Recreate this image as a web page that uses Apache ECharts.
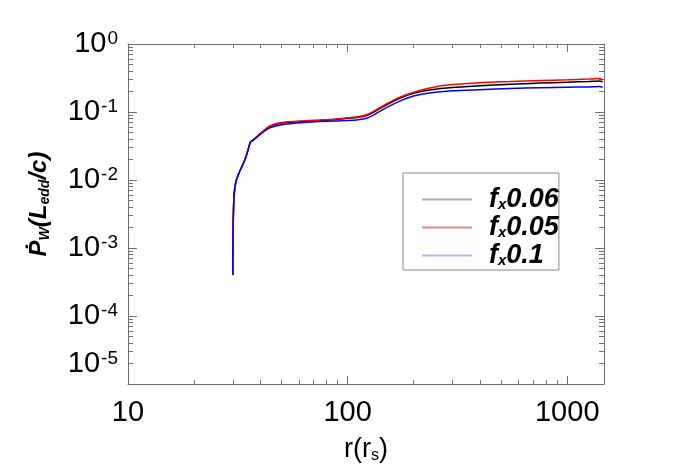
<!DOCTYPE html>
<html>
<head>
<meta charset="utf-8">
<script src="https://cdn.jsdelivr.net/npm/echarts@6/dist/echarts.min.js"></script>
<style>
html, body { margin: 0; padding: 0; background: #fff; }
#chart { width: 673px; height: 470px; }
</style>
</head>
<body>
<div id="chart"></div>
<script>
// radius in r_s
var radius = [30, 30.05, 30.15, 30.4, 31.0, 31.8, 32.6, 34.0, 35.0, 36.1, 37.4, 40, 44, 50, 63, 80, 100, 112, 122, 131, 151, 175, 200, 240, 300, 400, 550, 750, 1000, 1250, 1400, 1450];
// momentum flux of the wind, L_edd/c
var pdotFx006 = [4.0e-4, 1.0e-3, 2.6e-3, 6.0e-3, 9.5e-3, 1.2e-2, 1.45e-2, 1.95e-2, 2.6e-2, 3.6e-2, 3.95e-2, 4.8e-2, 6.1e-2, 0.069, 0.073, 0.076, 0.081, 0.084, 0.089, 0.099, 0.129, 0.162, 0.188, 0.212, 0.230, 0.243, 0.256, 0.266, 0.274, 0.281, 0.286, 0.278];
var pdotFx005 = [4.0e-4, 1.0e-3, 2.6e-3, 6.0e-3, 9.5e-3, 1.2e-2, 1.45e-2, 1.95e-2, 2.6e-2, 3.6e-2, 3.95e-2, 4.8e-2, 6.2e-2, 0.070, 0.074, 0.077, 0.082, 0.085, 0.091, 0.102, 0.133, 0.168, 0.196, 0.228, 0.253, 0.270, 0.280, 0.290, 0.298, 0.305, 0.310, 0.298];
var pdotFx01 = [4.0e-4, 1.0e-3, 2.6e-3, 6.0e-3, 9.5e-3, 1.2e-2, 1.45e-2, 1.95e-2, 2.6e-2, 3.6e-2, 3.9e-2, 4.7e-2, 5.8e-2, 0.065, 0.070, 0.073, 0.075, 0.077, 0.081, 0.090, 0.117, 0.147, 0.172, 0.192, 0.205, 0.213, 0.222, 0.227, 0.231, 0.234, 0.237, 0.232];

var seriesNames = ['0.06', '0.05', '0.1'];
var lineColors = ['#000000', '#ff0000', '#0000ff'];
var legendColors = ['#aaaaaa', '#f08080', '#b0b4ff'];

var xRange = [10, 1470];
var yRange = [1e-5, 1];
var xLabelValues = [10, 100, 1000];
// the lowest label sits on the 2e-5 tick, as in the original plot
var yLabelValues = [2e-5, 1e-4, 1e-3, 1e-2, 1e-1, 1];

var axisColor = '#707070';

function pairs(vals) {
  return radius.map(function (r, i) { return [r, vals[i]]; });
}

function logAxis(position, range, extra) {
  var ax = {
    type: 'log',
    logBase: 10,
    position: position,
    min: range[0],
    max: range[1],
    axisLine: { show: true, onZero: false, lineStyle: { color: axisColor, width: 1 } },
    axisTick: { show: true, inside: true, length: 8, lineStyle: { color: axisColor } },
    minorTick: { show: true, splitNumber: 9, length: 4, lineStyle: { color: axisColor } },
    axisLabel: { show: false },
    splitLine: { show: false },
    minorSplitLine: { show: false }
  };
  return Object.assign(ax, extra || {});
}

var chart = echarts.init(document.getElementById('chart'));

var xMain = logAxis('bottom', xRange, {
  axisLabel: {
    show: true,
    customValues: xLabelValues,
    margin: 14,
    fontSize: 29,
    lineHeight: 29,
    color: '#000',
    formatter: function (v) { return String(Math.round(v)); }
  },
  name: '{a|r(r}{s|s}{a|)}',
  nameLocation: 'middle',
  nameGap: 52,
  nameTextStyle: {
    rich: {
      a: { fontSize: 27, lineHeight: 28, color: '#000' },
      s: { fontSize: 16, lineHeight: 10, verticalAlign: 'bottom', color: '#000' }
    }
  }
});

var yMain = logAxis('left', yRange, {
  axisTick: { show: true, inside: true, length: 9, lineStyle: { color: axisColor } },
  minorTick: { show: true, splitNumber: 9, length: 5, lineStyle: { color: axisColor } },
  axisLabel: {
    show: true,
    customValues: yLabelValues,
    margin: 10,
    formatter: function (v) { return '{b|10}{s|' + Math.round(Math.log10(v)) + '}'; },
    rich: {
      b: { fontSize: 29, lineHeight: 29, color: '#000' },
      s: { fontSize: 19, lineHeight: 22, verticalAlign: 'top', color: '#000', padding: [0, 0, 0, 1] }
    }
  },
  name: '{m|\u1E56}{s|W}{m|(L}{s|edd}{m|/c)}',
  nameLocation: 'middle',
  nameGap: 76,
  nameTextStyle: {
    padding: [0, 0, 0, 20],
    rich: {
      m: { fontSize: 24, lineHeight: 26, fontWeight: 'bold', fontStyle: 'italic', color: '#000' },
      s: { fontSize: 14, lineHeight: 10, verticalAlign: 'bottom', fontWeight: 'bold', fontStyle: 'italic', color: '#000' }
    }
  }
});

var legendRich = {
  f: { fontSize: 27, lineHeight: 26, fontWeight: 'bold', fontStyle: 'italic', color: '#000', padding: [0, 0, 0, 12] },
  x: { fontSize: 15, lineHeight: 10, verticalAlign: 'bottom', fontWeight: 'bold', fontStyle: 'italic', color: '#000' },
  n: { fontSize: 27, lineHeight: 26, fontWeight: 'bold', fontStyle: 'italic', color: '#000' }
};

var seriesData = [pdotFx006, pdotFx005, pdotFx01];

var option = {
  animation: false,
  grid: { left: 128, right: 69, top: 44, bottom: 86 },
  legend: {
    orient: 'vertical',
    left: 403,
    top: 173,
    padding: [13, 0, 1, 19],
    itemWidth: 50,
    itemHeight: 2,
    itemGap: 1,
    icon: 'rect',
    borderColor: '#888',
    borderWidth: 1,
    data: seriesNames.map(function (n, i) { return { name: n, itemStyle: { color: legendColors[i] } }; }),
    formatter: function (n) { return '{f|f}{x|x}{n|' + n + '}'; },
    textStyle: { rich: legendRich }
  },
  xAxis: [
    xMain,
    logAxis('top', xRange)
  ],
  yAxis: [
    yMain,
    logAxis('right', yRange, {
      axisTick: { show: true, inside: true, length: 9, lineStyle: { color: axisColor } },
      minorTick: { show: true, splitNumber: 9, length: 5, lineStyle: { color: axisColor } }
    })
  ],
  series: seriesNames.map(function (n, i) {
    return {
      name: n,
      type: 'line',
      showSymbol: false,
      smooth: 0.2,
      data: pairs(seriesData[i]),
      lineStyle: { color: lineColors[i], width: 1.5 }
    };
  })
};

chart.setOption(option);
</script>
</body>
</html>
